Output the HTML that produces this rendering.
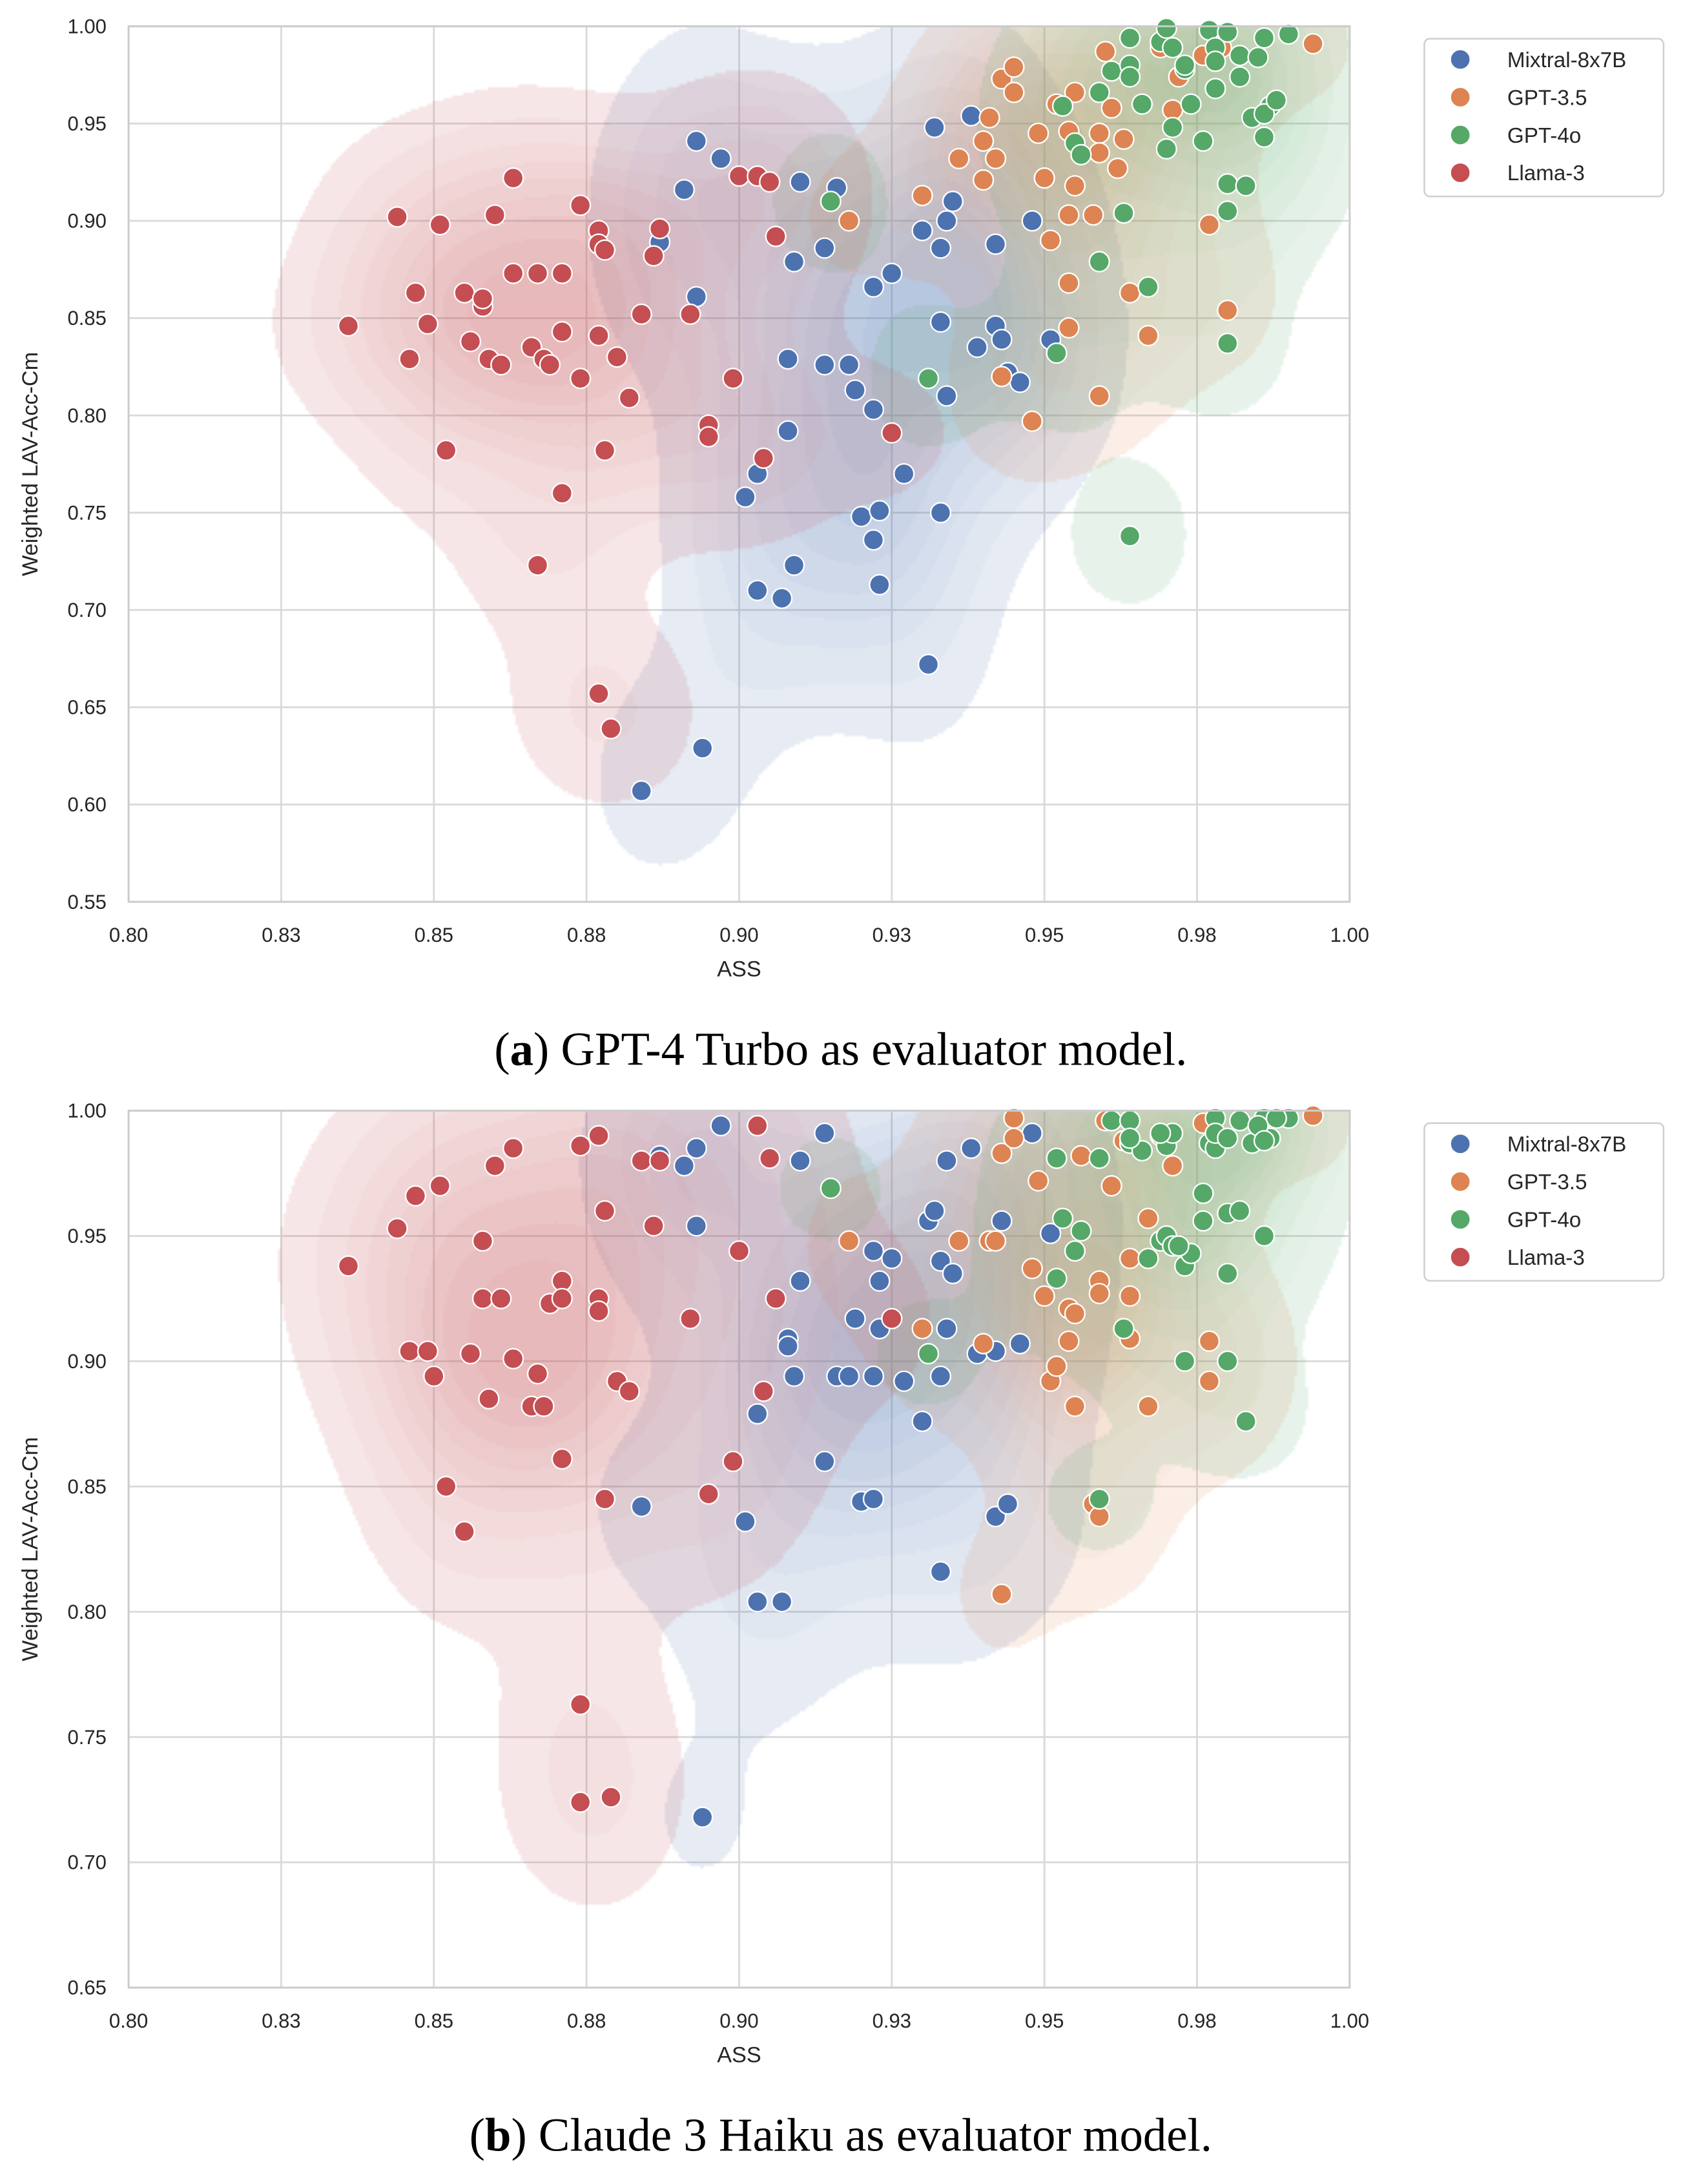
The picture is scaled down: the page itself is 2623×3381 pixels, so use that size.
<!DOCTYPE html>
<html><head><meta charset="utf-8">
<style>
html,body{margin:0;padding:0;background:#fff;}
body{width:2623px;height:3381px;overflow:hidden;position:relative;}
#stage{position:absolute;left:0;top:0;width:1225px;height:1579px;transform:scale(2.14122);transform-origin:0 0;}
svg,canvas{position:absolute;left:0;top:0;}
text{font-family:"Liberation Sans",sans-serif;}
</style></head>
<body>
<div id="stage">
<svg id="bg" width="1225" height="1579"></svg>
<canvas id="kdeA" style="left:93px;top:19px;width:883px;height:633px"></canvas>
<canvas id="kdeB" style="left:93px;top:803px;width:883px;height:634px"></canvas>
<svg id="fg" width="1225" height="1579"></svg>
</div>
<script>
const seriesNames=['Mixtral-8x7B','GPT-3.5','GPT-4o','Llama-3'];
const seriesColors=['#4c72b0','#dd8452','#55a868','#c44e52'];
const xTickVals=[0.8,0.825,0.85,0.875,0.9,0.925,0.95,0.975,1.0];
const xTickLabels=['0.80','0.83','0.85','0.88','0.90','0.93','0.95','0.98','1.00'];
const yTickValsA=[0.55,0.6,0.65,0.7,0.75,0.8,0.85,0.9,0.95,1.0];
const yTickLabelsA=['0.55','0.60','0.65','0.70','0.75','0.80','0.85','0.90','0.95','1.00'];
const yTickValsB=[0.65,0.7,0.75,0.8,0.85,0.9,0.95,1.0];
const yTickLabelsB=['0.65','0.70','0.75','0.80','0.85','0.90','0.95','1.00'];

const aMixX=[.884,.894,.893,.897,.891,.887,.893,.901,.903,.903,.907,.908,.908,.909,.909,.910,.914,.914,.916,.918,.919,.922,.922,.920,.922,.923,.923,.925,.927,.930,.931,.932,.933,.933,.934,.935,.934,.933,.938,.939,.942,.942,.943,.944,.946,.948,.951];
const aMixY=[.607,.629,.941,.932,.916,.889,.861,.758,.770,.710,.706,.792,.829,.723,.879,.920,.886,.826,.917,.826,.813,.803,.866,.748,.736,.751,.713,.873,.770,.895,.672,.948,.886,.848,.900,.910,.810,.750,.954,.835,.846,.888,.839,.822,.817,.900,.839];
const aGpt35X=[.930,.936,.940,.941,.942,.943,.945,.945,.940,.918,.943,.948,.949,.950,.951,.952,.954,.954,.955,.954,.954,.958,.959,.959,.959,.960,.961,.962,.964,.967,.969,.971,.972,.977,.980,.994,.955,.963,.976,.979];
const aGpt35Y=[.913,.932,.941,.953,.932,.973,.979,.966,.921,.900,.820,.797,.945,.922,.890,.960,.946,.903,.918,.868,.845,.903,.945,.935,.810,.987,.958,.927,.863,.841,.989,.957,.974,.898,.854,.991,.966,.942,.985,.989];
const aGpt4oX=[.915,.931,.952,.959,.963,.967,.964,.980,.980,.980,.983,.986,.987,.990,.986,.953,.955,.956,.959,.961,.964,.964,.964,.966,.969,.970,.971,.970,.971,.973,.973,.974,.976,.977,.978,.978,.978,.980,.982,.982,.984,.985,.986,.988];
const aGpt4oY=[.910,.819,.832,.879,.904,.866,.738,.837,.905,.919,.918,.943,.959,.996,.994,.959,.940,.934,.966,.977,.980,.994,.974,.960,.992,.999,.989,.937,.948,.978,.980,.960,.941,.998,.968,.989,.982,.997,.974,.985,.953,.984,.955,.962];
const aLlamaX=[.836,.844,.846,.847,.849,.851,.852,.855,.856,.858,.858,.859,.860,.861,.863,.863,.866,.867,.868,.869,.871,.871,.871,.867,.874,.874,.877,.877,.877,.878,.878,.880,.882,.884,.886,.887,.892,.895,.895,.899,.900,.904,.903,.905,.906,.925,.877,.879];
const aLlamaY=[.846,.902,.829,.863,.847,.898,.782,.863,.838,.856,.860,.829,.903,.826,.873,.922,.835,.873,.829,.826,.760,.873,.843,.723,.819,.908,.895,.841,.888,.885,.782,.830,.809,.852,.882,.896,.852,.795,.789,.819,.923,.778,.923,.920,.892,.791,.657,.639];

const bMixX=[.884,.894,.897,.893,.891,.887,.893,.901,.903,.903,.907,.908,.909,.908,.910,.910,.914,.914,.916,.918,.919,.922,.922,.920,.922,.923,.923,.925,.927,.930,.931,.932,.933,.933,.934,.935,.934,.933,.938,.939,.942,.942,.943,.944,.946,.948,.951];
const bMixY=[.842,.718,.994,.985,.978,.982,.954,.836,.804,.879,.804,.909,.894,.906,.932,.980,.991,.860,.894,.894,.917,.894,.944,.844,.845,.913,.932,.941,.892,.876,.956,.960,.940,.894,.913,.935,.980,.816,.985,.903,.838,.904,.956,.843,.907,.991,.951];
const bGpt35X=[.918,.930,.936,.940,.941,.942,.943,.943,.945,.945,.948,.949,.950,.951,.952,.954,.954,.955,.955,.958,.959,.959,.959,.960,.961,.964,.964,.967,.969,.971,.976,.977,.977,.980,.994,.956,.963,.967,.964];
const bGpt35Y=[.948,.913,.948,.907,.948,.948,.807,.983,.997,.989,.937,.972,.926,.892,.898,.921,.908,.919,.882,.843,.838,.932,.927,.996,.970,.941,.926,.882,.990,.978,.995,.908,.892,.900,.998,.982,.988,.957,.909];
const bGpt4oX=[.915,.931,.952,.959,.963,.967,.980,.980,.980,.983,.986,.987,.990,.986,.953,.955,.956,.959,.961,.964,.964,.966,.969,.970,.971,.970,.971,.973,.973,.974,.976,.977,.978,.978,.978,.980,.982,.982,.984,.985,.986,.988,.952,.964,.969,.972,.976];
const bGpt4oY=[.969,.903,.933,.845,.913,.941,.900,.959,.935,.876,.950,.989,.997,.997,.957,.944,.952,.981,.996,.996,.987,.984,.948,.950,.946,.986,.991,.938,.900,.943,.967,.987,.985,.997,.991,.989,.960,.996,.987,.994,.988,.997,.981,.989,.991,.946,.956];
const bLlamaX=[.836,.844,.846,.847,.849,.850,.851,.852,.855,.856,.858,.858,.859,.860,.861,.863,.863,.866,.867,.868,.869,.871,.871,.871,.874,.874,.874,.877,.877,.877,.878,.878,.879,.880,.882,.884,.886,.887,.892,.895,.899,.900,.904,.903,.905,.906,.925];
const bLlamaY=[.938,.953,.904,.966,.904,.894,.970,.850,.832,.903,.948,.925,.885,.978,.925,.901,.985,.882,.895,.882,.923,.861,.932,.925,.763,.724,.986,.990,.925,.920,.960,.845,.726,.892,.888,.980,.954,.980,.917,.847,.860,.944,.888,.994,.981,.925,.917];

const NS='http://www.w3.org/2000/svg';
const bg=document.getElementById('bg'), fg=document.getElementById('fg');
function mk(parent,tag,attrs,txt){const e=document.createElementNS(NS,tag);for(const k in attrs)e.setAttribute(k,attrs[k]);if(txt!==undefined)e.textContent=txt;parent.appendChild(e);return e;}

function drawPlot(cfg){
  const L=93,R=976,T=cfg.top,B=cfg.bottom;
  const sx=v=>L+(v-0.8)/0.2*(R-L);
  const sy=v=>B-(v-cfg.ymin)/(1-cfg.ymin)*(B-T);
  const g=mk(bg,'g',{});
  
  
  mk(g,'rect',{x:L,y:T,width:R-L,height:B-T,fill:'#fff'});
  xTickVals.forEach((v,i)=>{
    const ln=mk(g,'line',{x1:sx(v),x2:sx(v),y1:T,y2:B,stroke:'#d9d9d9','stroke-width':1.3});
    
    
    const t=mk(g,'text',{x:sx(v),y:B+29,'font-size':14.5,fill:'#262626','text-anchor':'middle'},xTickLabels[i]);
    
    
  });
  cfg.yTicks.forEach((v,i)=>{
    const ln=mk(g,'line',{x1:L,x2:R,y1:sy(v),y2:sy(v),stroke:'#d9d9d9','stroke-width':1.3});
    
    
    const t=mk(g,'text',{x:L-16,y:sy(v)+5,'font-size':14.5,fill:'#262626','text-anchor':'end'},cfg.yLabels[i]);
    
    
  });
  const xt=mk(g,'text',{x:(L+R)/2,y:B+54,'font-size':16,fill:'#262626','text-anchor':'middle'},'ASS');
  
  
  const yt=mk(g,'text',{x:0,y:0,'font-size':16,fill:'#262626','text-anchor':'middle',transform:`translate(27,${(T+B)/2}) rotate(-90)`},'Weighted LAV-Acc-Cm');
  
  

  const cv=document.getElementById(cfg.canvas);
  const step=2, W=Math.ceil((R-L)/step), H=Math.ceil((B-T)/step);
  cv.width=W; cv.height=H;
  const ctx=cv.getContext('2d');
  const img=ctx.createImageData(W,H);
  const accA=new Float32Array(W*H), accR=new Float32Array(W*H), accG=new Float32Array(W*H), accB=new Float32Array(W*H);
  cfg.series.forEach((s,si)=>{
    const n=Math.min(s.x.length,s.y.length);
    let mx=0,my=0;for(let i=0;i<n;i++){mx+=s.x[i];my+=s.y[i];}mx/=n;my/=n;
    let vx=0,vy=0;for(let i=0;i<n;i++){vx+=(s.x[i]-mx)**2;vy+=(s.y[i]-my)**2;}
    const f=Math.pow(n,-1/6);
    const bx=Math.sqrt(vx/(n-1))*f, by=Math.sqrt(vy/(n-1))*f;
    const dens=new Float32Array(W*H);
    for(let r=0;r<H;r++){
      const py=T+(r+0.5)*step;
      const dy=cfg.ymin+(B-py)/(B-T)*(1-cfg.ymin);
      for(let c=0;c<W;c++){
        const px=L+(c+0.5)*step;
        const dx=0.8+(px-L)/(R-L)*0.2;
        let sum=0;
        for(let i=0;i<n;i++){const a=(dx-s.x[i])/bx, b=(dy-s.y[i])/by; const e=a*a+b*b; if(e<40) sum+=Math.exp(-0.5*e);}
        dens[r*W+c]=sum;
      }
    }
    const idx=Array.from({length:W*H},(_,i)=>i).sort((a,b)=>dens[a]-dens[b]);
    let tot=0;for(let i=0;i<dens.length;i++)tot+=dens[i];
    const q=new Float32Array(W*H);let cum=0;
    for(const i of idx){cum+=dens[i];q[i]=cum/tot;}
    const col=seriesColors[si];
    const cr=parseInt(col.slice(1,3),16),cg=parseInt(col.slice(3,5),16),cb=parseInt(col.slice(5,7),16);
    for(let i=0;i<W*H;i++){
      if(q[i]<0.05)continue;
      let lvl=Math.floor((q[i]-0.05)/(0.95/9))+1; if(lvl>9)lvl=9;
      const a=Math.min(0.45,0.14+0.032*(lvl-1));
      const A=accA[i];
      const oa=a+A*(1-a);
      accR[i]=(cr*a+accR[i]*A*(1-a))/oa;
      accG[i]=(cg*a+accG[i]*A*(1-a))/oa;
      accB[i]=(cb*a+accB[i]*A*(1-a))/oa;
      accA[i]=oa;
    }
  });
  for(let i=0;i<W*H;i++){img.data[i*4]=accR[i];img.data[i*4+1]=accG[i];img.data[i*4+2]=accB[i];img.data[i*4+3]=accA[i]*255;}
  ctx.putImageData(img,0,0);

  const pg=mk(fg,'g',{});
  
  
  cfg.series.forEach((s,si)=>{
    const n=Math.min(s.x.length,s.y.length);
    for(let i=0;i<n;i++){
      const y=s.y[i]; if(y<cfg.ymin||y>1.005)continue;
      const c=mk(pg,'circle',{cx:sx(s.x[i]),cy:sy(y),r:7.2,fill:seriesColors[si],stroke:'#fff','stroke-width':1.1});
      
      
    }
  });
  const fr=mk(fg,'rect',{x:L,y:T,width:R-L,height:B-T,fill:'none',stroke:'#cccccc','stroke-width':1.4});
  
  

  const lg=mk(fg,'g',{});
  
  
  const ly=T+9;
  mk(lg,'rect',{x:1030,y:ly,width:173,height:114,rx:4,fill:'#fff',stroke:'#d0d0d0','stroke-width':1.2});
  seriesNames.forEach((nm,i)=>{
    const e=mk(lg,'g',{});
    
    
    mk(e,'circle',{cx:1056,cy:ly+15+i*27.3,r:7.2,fill:seriesColors[i],stroke:'#fff','stroke-width':1});
    mk(e,'text',{x:1090,y:ly+20.5+i*27.3,'font-size':15.5,fill:'#262626'},nm);
  });

  const cap=mk(fg,'text',{x:608,y:cfg.capY,'font-size':34,fill:'#000','text-anchor':'middle',style:'font-family:"Liberation Serif",serif'});
  
  
  mk(cap,'tspan',{},'(');
  mk(cap,'tspan',{'font-weight':'bold'},cfg.letter);
  mk(cap,'tspan',{},') '+cfg.caption);
}

drawPlot({id:'plot-a',top:19,bottom:652,ymin:0.55,yTicks:yTickValsA,yLabels:yTickLabelsA,canvas:'kdeA',capY:770,letter:'a',caption:'GPT-4 Turbo as evaluator model.',
  series:[{x:aMixX,y:aMixY},{x:aGpt35X,y:aGpt35Y},{x:aGpt4oX,y:aGpt4oY},{x:aLlamaX,y:aLlamaY}]});
drawPlot({id:'plot-b',top:803,bottom:1437,ymin:0.65,yTicks:yTickValsB,yLabels:yTickLabelsB,canvas:'kdeB',capY:1555,letter:'b',caption:'Claude 3 Haiku as evaluator model.',
  series:[{x:bMixX,y:bMixY},{x:bGpt35X,y:bGpt35Y},{x:bGpt4oX,y:bGpt4oY},{x:bLlamaX,y:bLlamaY}]});
</script>
</body></html>
